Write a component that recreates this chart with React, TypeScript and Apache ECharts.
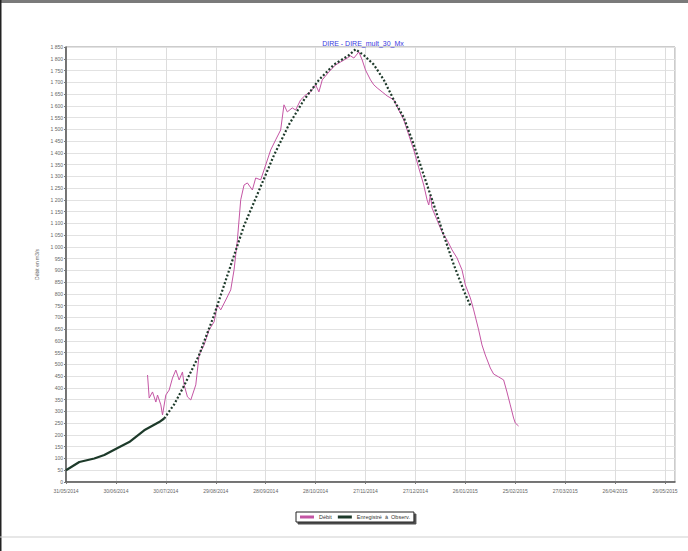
import React, { useEffect, useRef } from "react";
import * as echarts from "echarts";

const chartTitle = "DIRE - DIRE_mult_30_Mx";
const yAxisName = "Débit en m3/s";
const seriesNames = ["Débit", "Enregistré  à  Observ."];
const startDate = "2014-05-31";
const simSolidUntil = "2014-07-29";
const xTickStepDays = 30;
const xMaxDays = 366;
const yMax = 1850;
const yStep = 50;

const obsDates = [
  "2014-07-19", "2014-07-20", "2014-07-22", "2014-07-24", "2014-07-25", "2014-07-27", "2014-07-28", "2014-07-30",
  "2014-08-01", "2014-08-03", "2014-08-05", "2014-08-07", "2014-08-09", "2014-08-10", "2014-08-12", "2014-08-14",
  "2014-08-17", "2014-08-19", "2014-08-22", "2014-08-25", "2014-08-28", "2014-08-30", "2014-09-01", "2014-09-04",
  "2014-09-07", "2014-09-09", "2014-09-11", "2014-09-13", "2014-09-15", "2014-09-17", "2014-09-20", "2014-09-22",
  "2014-09-25", "2014-09-28", "2014-10-01", "2014-10-04", "2014-10-07", "2014-10-09", "2014-10-11", "2014-10-14",
  "2014-10-16", "2014-10-19", "2014-10-22", "2014-10-25", "2014-10-28", "2014-10-30", "2014-11-01", "2014-11-05",
  "2014-11-09", "2014-11-12", "2014-11-16", "2014-11-18", "2014-11-20", "2014-11-23", "2014-11-25", "2014-11-27",
  "2014-11-30", "2014-12-02", "2014-12-04", "2014-12-07", "2014-12-10", "2014-12-14", "2014-12-17", "2014-12-20",
  "2014-12-23", "2014-12-26", "2014-12-29", "2015-01-01", "2015-01-03", "2015-01-04", "2015-01-05", "2015-01-06",
  "2015-01-09", "2015-01-12", "2015-01-15", "2015-01-18", "2015-01-21", "2015-01-24", "2015-01-26", "2015-01-29",
  "2015-01-31", "2015-02-03", "2015-02-05", "2015-02-07", "2015-02-10", "2015-02-12", "2015-02-15", "2015-02-18",
  "2015-02-20", "2015-02-22", "2015-02-24", "2015-02-25", "2015-02-27",
];
const obsValues = [
  455, 357, 383, 340, 370, 328, 285, 370,
  391, 442, 476, 434, 468, 413, 362, 349,
  413, 540, 583, 647, 681, 753, 732, 774,
  817, 902, 1029, 1200, 1263, 1272, 1242, 1293,
  1285, 1348, 1412, 1455, 1497, 1604, 1574, 1591,
  1582, 1625, 1646, 1659, 1689, 1659, 1710, 1744,
  1774, 1786, 1803, 1812, 1803, 1829, 1795, 1752,
  1710, 1689, 1676, 1659, 1642, 1625, 1582, 1540,
  1476, 1412, 1336, 1263, 1200, 1178, 1221, 1165,
  1114, 1063, 1029, 987, 953, 902, 838, 783,
  732, 647, 583, 540, 485, 459, 447, 434,
  383, 328, 272, 251, 238,
];

const simDates = [
  "2014-05-31", "2014-06-08", "2014-06-17", "2014-06-23", "2014-07-01", "2014-07-08", "2014-07-17", "2014-07-26",
  "2014-07-29", "2014-08-04", "2014-08-10", "2014-08-19", "2014-08-28", "2014-09-06", "2014-09-15", "2014-09-24",
  "2014-10-03", "2014-10-12", "2014-10-21", "2014-10-30", "2014-11-08", "2014-11-17", "2014-11-21", "2014-11-26",
  "2014-12-02", "2014-12-08", "2014-12-14", "2014-12-20", "2014-12-26", "2015-01-01", "2015-01-07", "2015-01-13",
  "2015-01-19", "2015-01-25", "2015-01-29",
];
const simValues = [
  50, 85, 100, 115, 145, 170, 220, 255,
  270, 330, 410, 540, 710, 900, 1090, 1240,
  1390, 1520, 1625, 1710, 1775, 1815, 1840, 1815,
  1775, 1710, 1625, 1550, 1435, 1305, 1180, 1050,
  925, 815, 750,
];

const DAY = 86400000;
const base = Date.parse(startDate);
const toDay = (d: string) => (Date.parse(d) - base) / DAY;
const pad = (n: number) => (n < 10 ? "0" + n : "" + n);
const fmtDate = (v: number) => {
  const dt = new Date(base + v * DAY);
  return pad(dt.getUTCDate()) + "/" + pad(dt.getUTCMonth() + 1) + "/" + dt.getUTCFullYear();
};
const fmtNum = (v: number) => {
  const s = String(Math.round(v));
  return s.length > 3 ? s.slice(0, s.length - 3) + " " + s.slice(s.length - 3) : s;
};

export default function App() {
  const ref = useRef<HTMLDivElement>(null);
  useEffect(() => {
    if (!ref.current) return;
    const chart = echarts.init(ref.current, null, { renderer: "svg" });
    const font = "Liberation Sans, Arial, sans-serif";
    const simAll = simDates.map((d, i) => [toDay(d), simValues[i]]);
    const cut = toDay(simSolidUntil);
    const simSolid = simAll.filter((p) => p[0] <= cut);
    const simDotted = simAll.filter((p) => p[0] >= cut);
    const dark = "#1d3a2a";
    chart.setOption({
      animation: false,
      backgroundColor: "#ffffff",
      textStyle: { fontFamily: font },
      title: {
        text: chartTitle,
        left: 358,
        top: 35,
        textAlign: "center",
        textStyle: { fontSize: 7, fontWeight: "normal", color: "#3a3ae0", fontFamily: font },
      },
      legend: {
        left: 296,
        top: 512,
        orient: "horizontal",
        itemWidth: 14,
        itemHeight: 3,
        itemGap: 6,
        padding: [2, 4],
        borderColor: "#222",
        borderWidth: 1,
        backgroundColor: "#fff",
        shadowColor: "rgba(0,0,0,0.7)",
        shadowOffsetX: 2,
        shadowOffsetY: 2,
        shadowBlur: 0,
        textStyle: { fontSize: 5.5, color: "#333", fontFamily: font },
        data: [
          { name: seriesNames[0], icon: "rect" },
          { name: seriesNames[1], icon: "rect" },
        ],
      },
      grid: {
        left: 66,
        right: 13,
        top: 47,
        bottom: 69,
        show: true,
        borderColor: "#999",
        borderWidth: 1,
      },
      xAxis: {
        type: "value",
        min: 0,
        max: xMaxDays,
        interval: xTickStepDays,
        axisLine: { show: true, lineStyle: { color: "#555", width: 1.5 } },
        axisTick: { show: true, length: 2, lineStyle: { color: "#777" } },
        splitLine: { show: true, lineStyle: { color: "#ddd", width: 1 } },
        axisLabel: {
          fontSize: 5,
          color: "#666",
          margin: 6,
          showMaxLabel: false,
          formatter: (v: number) => (v % xTickStepDays === 0 ? fmtDate(v) : ""),
        },
      },
      yAxis: {
        type: "value",
        min: 0,
        max: yMax,
        interval: yStep,
        name: yAxisName,
        nameLocation: "middle",
        nameGap: 19,
        nameTextStyle: { fontSize: 5, color: "#666", fontFamily: font },
        axisLine: { show: true, lineStyle: { color: "#555", width: 1.5 } },
        axisTick: { show: true, length: 2, lineStyle: { color: "#777" } },
        splitLine: { show: true, lineStyle: { color: "#e2e2e2", width: 1 } },
        axisLabel: { fontSize: 5, color: "#666", margin: 3, formatter: (v: number) => fmtNum(v) },
      },
      series: [
        {
          name: seriesNames[0],
          type: "line",
          showSymbol: false,
          symbol: "none",
          data: obsDates.map((d, i) => [toDay(d), obsValues[i]]),
          lineStyle: { color: "#c455a4", width: 1 },
          itemStyle: { color: "#c455a4" },
          z: 2,
        },
        {
          name: seriesNames[1],
          type: "line",
          showSymbol: false,
          symbol: "none",
          data: simSolid,
          lineStyle: { color: dark, width: 2.2 },
          itemStyle: { color: dark },
          z: 3,
        },
        {
          name: seriesNames[1],
          type: "line",
          showSymbol: false,
          symbol: "none",
          data: simDotted,
          lineStyle: { color: dark, width: 2.2, type: [2, 2], cap: "butt" },
          itemStyle: { color: dark },
          z: 3,
        },
      ],
      graphic: [
        { type: "rect", shape: { x: 0, y: 0, width: 688, height: 3 }, style: { fill: "#7a7a7a" } },
        { type: "rect", shape: { x: 0, y: 0, width: 1.5, height: 551 }, style: { fill: "#222" } },
        { type: "line", shape: { x1: 0, y1: 537, x2: 688, y2: 537 }, style: { stroke: "#cfcfcf", lineWidth: 1 } },
      ],
    });
    return () => chart.dispose();
  }, []);
  return (
    <div
      ref={ref}
      style={{ position: "fixed", left: 0, top: 0, width: 688, height: 551 }}
    />
  );
}
